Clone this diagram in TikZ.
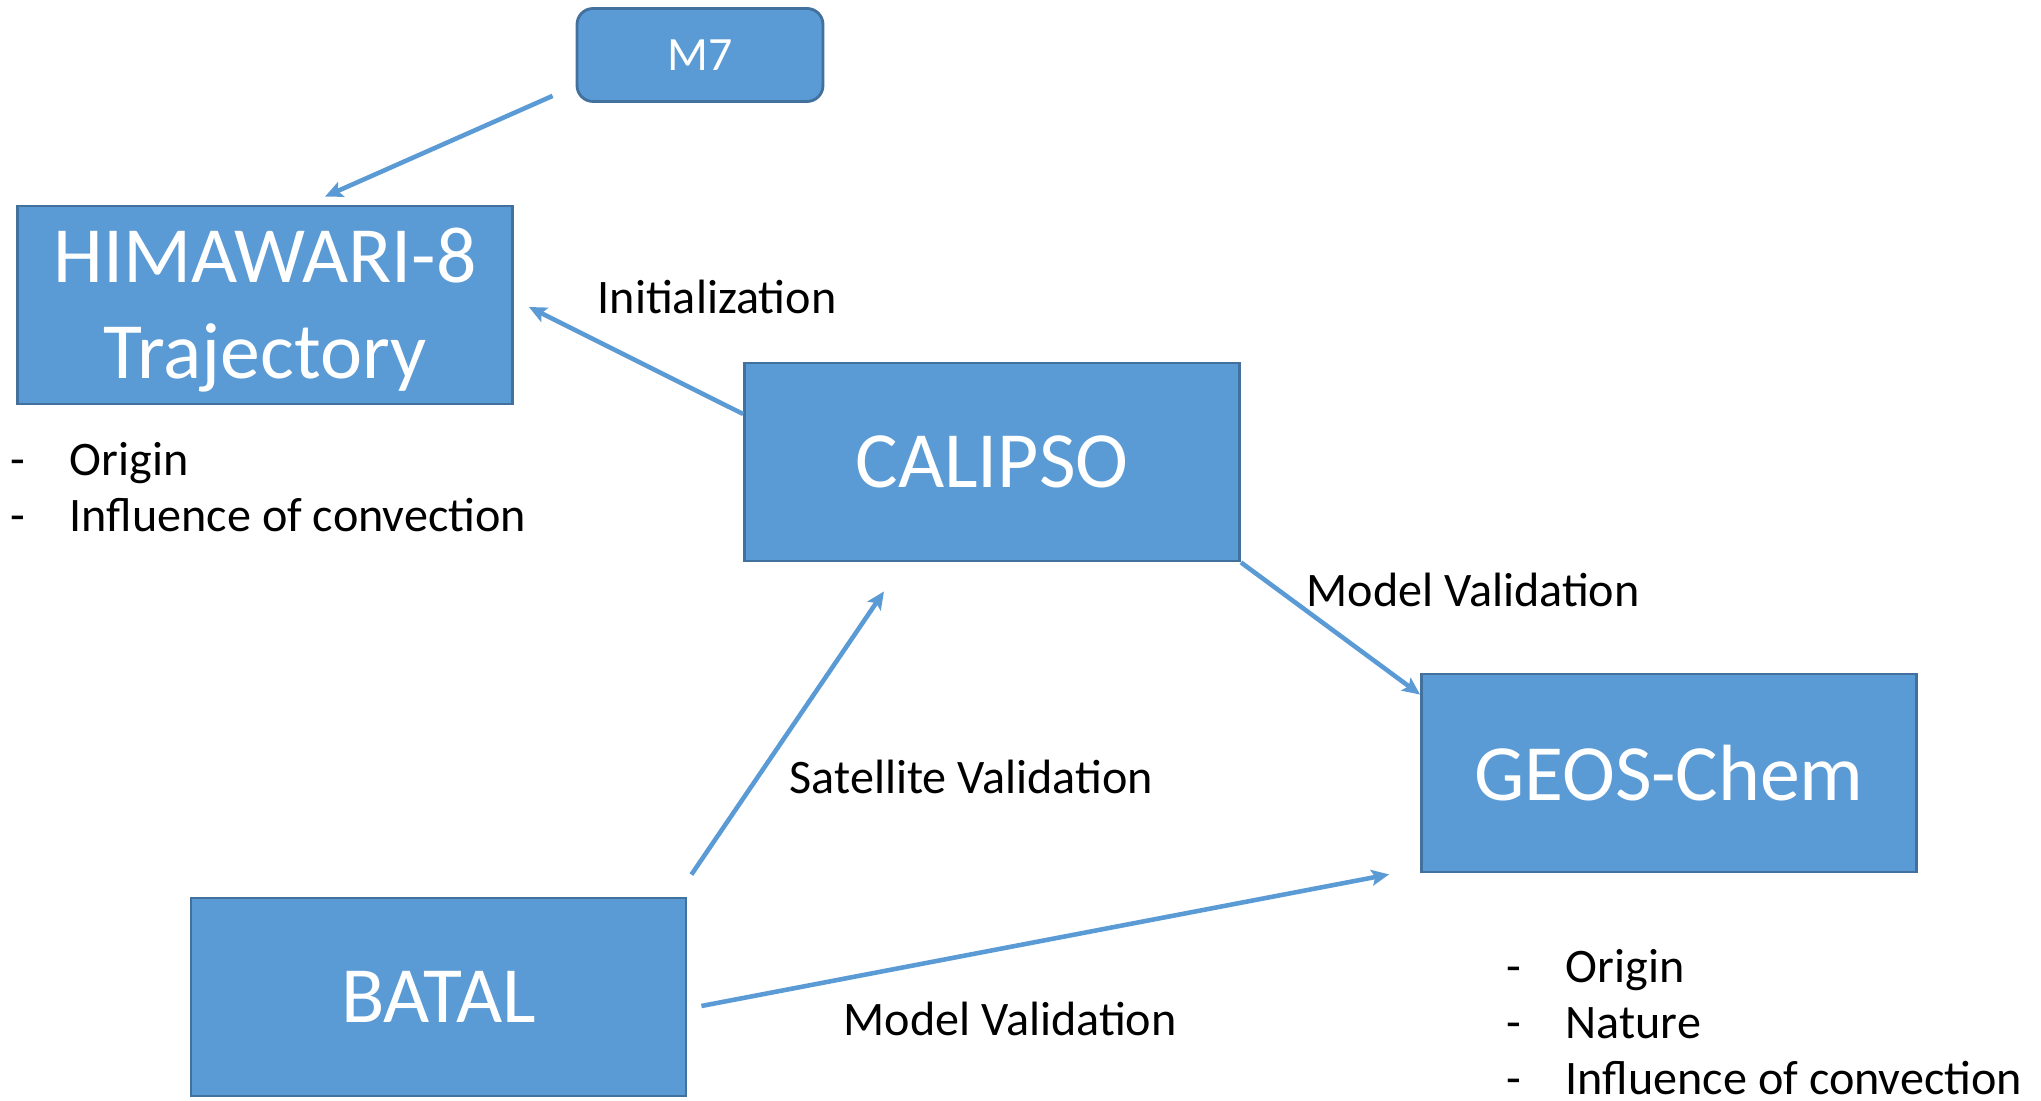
\documentclass[tikz,border=0pt]{standalone}
\usepackage{fontspec}
\setmainfont{Carlito}
\usetikzlibrary{arrows.meta}

\definecolor{boxblue}{HTML}{5B9BD5}
\definecolor{boxedge}{HTML}{41719C}
\newcommand{\itemdash}{\makebox[0.59cm][l]{-}}

\begin{document}
\begin{tikzpicture}[
    bigbox/.style={draw=boxedge,fill=boxblue,line width=0.8pt,text=white,
      minimum width=4.95cm,minimum height=1.98cm,align=center,inner sep=0pt,
      font=\fontsize{22.7}{27.5}\selectfont},
    smallbox/.style={draw=boxedge,fill=boxblue,line width=0.8pt,text=white,
      rounded corners=0.16cm,minimum width=2.46cm,minimum height=0.93cm,inner sep=0pt,
      font=\fontsize{13.6}{16}\selectfont},
    lbl/.style={inner sep=0pt,font=\fontsize{13.7}{16}\selectfont},
    flow/.style={draw=boxblue,line width=1.3pt,-{Stealth[length=5pt,width=4.5pt,inset=1pt]}}
  ]
  \useasboundingbox (0,0) rectangle (20.41,-11.01);

  % boxes
  \node[smallbox] (m7) at (7.00,-0.55) {M7};
  \node[bigbox] (himawari) at (2.65,-3.05) {\rule{0pt}{18.5pt}HIMAWARI-8\\Trajectory};
  \node[bigbox] (calipso) at (9.92,-4.62) {CALIPSO};
  \node[bigbox] (geos) at (16.69,-7.73) {GEOS-Chem};
  \node[bigbox] (batal) at (4.385,-9.97) {BATAL};

  % notes under the boxes
  \node[lbl,anchor=west,align=left] (himalist) at (0.10,-4.875)
    {\itemdash Origin\\\itemdash Influence of convection};
  \node[lbl,anchor=west,align=left] (geoslist) at (15.06,-10.22)
    {\itemdash Origin\\\itemdash Nature\\\itemdash Influence of convection};

  % arrow labels
  \node[lbl,anchor=west] (initlbl) at (5.97,-2.97) {Initialization};
  \node[lbl,anchor=west] (modeltop) at (13.06,-5.90) {Model Validation};
  \node[lbl,anchor=west] (satlbl) at (7.89,-7.77) {Satellite Validation};
  \node[lbl,anchor=west] (modelbot) at (8.43,-10.19) {Model Validation};

  % arrows
  \draw[flow] ([shift={(-0.23,0.07)}]m7.south west) -- ([shift={(0.60,0.08)}]himawari.north);
  \draw[flow] ([yshift=0.48cm]calipso.west) -- ([shift={(0.15,-0.02)}]himawari.east);
  \draw[flow] (calipso.south east) -- ([yshift=-0.22cm]geos.north west);
  \draw[flow] ([shift={(0.04,0.22)}]batal.north east) -- ([shift={(-1.08,-0.29)}]calipso.south);
  \draw[flow] ([shift={(0.14,-0.09)}]batal.east) -- ([shift={(-0.31,-0.01)}]geos.south west);
\end{tikzpicture}
\end{document}
